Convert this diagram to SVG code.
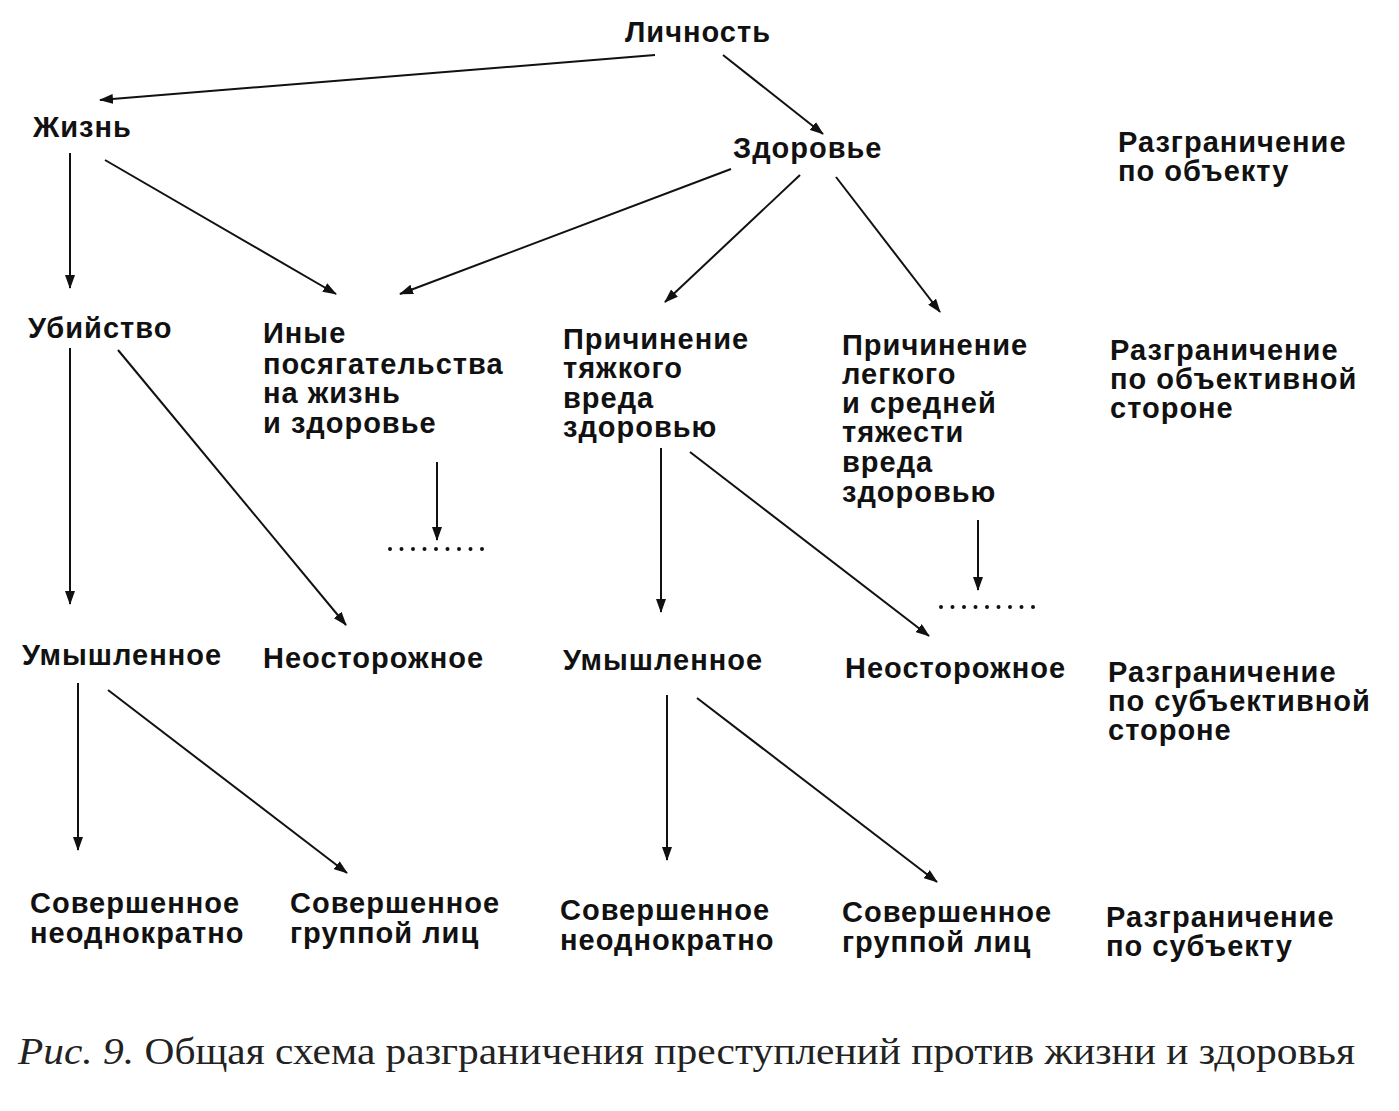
<svg xmlns="http://www.w3.org/2000/svg" width="1399" height="1111" viewBox="0 0 1399 1111">
<defs>
<marker id="ah" viewBox="0 0 14 10" refX="13" refY="5" markerWidth="14" markerHeight="10" markerUnits="userSpaceOnUse" orient="auto">
<path d="M0,0 L14,5 L0,10 Z" fill="#111"/>
</marker>
<style>
.t{font-family:"Liberation Sans",Arial,sans-serif;font-weight:bold;font-size:29px;letter-spacing:1px;fill:#111}
.c line{stroke:#111;stroke-width:2;marker-end:url(#ah)}
.d{stroke:#111;stroke-width:4;stroke-linecap:round;stroke-dasharray:0 11.5;fill:none}
.cap{font-family:"Liberation Serif","Times New Roman",serif;font-size:37px;fill:#222}
</style>
</defs>
<rect width="1399" height="1111" fill="#fff"/>
<g id="connectors" class="c">
<line x1="655" y1="55" x2="100" y2="100"/>
<line x1="723" y1="55" x2="823" y2="134"/>
<line x1="70" y1="153" x2="70" y2="288"/>
<line x1="105" y1="160" x2="336" y2="294"/>
<line x1="731" y1="169" x2="400" y2="294"/>
<line x1="800" y1="175" x2="665" y2="302"/>
<line x1="836" y1="177" x2="940" y2="312"/>
<line x1="70" y1="348" x2="70" y2="604"/>
<line x1="118" y1="350" x2="346" y2="625"/>
<line x1="437" y1="462" x2="437" y2="540"/>
<line x1="661" y1="448" x2="661" y2="612"/>
<line x1="690" y1="452" x2="929" y2="636"/>
<line x1="978" y1="520" x2="978" y2="590"/>
<line x1="78" y1="683" x2="78" y2="850"/>
<line x1="108" y1="690" x2="347" y2="873"/>
<line x1="667" y1="695" x2="667" y2="860"/>
<line x1="697" y1="698" x2="937" y2="882"/>
</g>
<g id="dots1"><path class="d" d="M390,549 H485"/></g>
<g id="dots2"><path class="d" d="M941,607 H1036"/></g>
<g id="n-lichnost"><text class="t" x="625" y="42">Личность</text></g>
<g id="n-zhizn"><text class="t" x="33" y="137">Жизнь</text></g>
<g id="n-zdorovie"><text class="t" x="733" y="158">Здоровье</text></g>
<g id="l-object"><text class="t" x="1118" y="152">Разграничение</text><text class="t" x="1118" y="181">по объекту</text></g>
<g id="n-ubiystvo"><text class="t" x="28" y="338">Убийство</text></g>
<g id="n-inye"><text class="t" x="263" y="343">Иные</text><text class="t" x="263" y="374">посягательства</text><text class="t" x="263" y="403">на жизнь</text><text class="t" x="263" y="433">и здоровье</text></g>
<g id="n-tyazhkiy"><text class="t" x="563" y="349">Причинение</text><text class="t" x="563" y="378">тяжкого</text><text class="t" x="563" y="408">вреда</text><text class="t" x="563" y="437">здоровью</text></g>
<g id="n-legkiy"><text class="t" x="842" y="355">Причинение</text><text class="t" x="842" y="384">легкого</text><text class="t" x="842" y="413">и средней</text><text class="t" x="842" y="442">тяжести</text><text class="t" x="842" y="472">вреда</text><text class="t" x="842" y="502">здоровью</text></g>
<g id="l-objside"><text class="t" x="1110" y="360">Разграничение</text><text class="t" x="1110" y="389">по объективной</text><text class="t" x="1110" y="418">стороне</text></g>
<g id="n-umysh1"><text class="t" x="22" y="665">Умышленное</text></g>
<g id="n-neost1"><text class="t" x="263" y="668">Неосторожное</text></g>
<g id="n-umysh2"><text class="t" x="563" y="670">Умышленное</text></g>
<g id="n-neost2"><text class="t" x="845" y="678">Неосторожное</text></g>
<g id="l-subjside"><text class="t" x="1108" y="682">Разграничение</text><text class="t" x="1108" y="711">по субъективной</text><text class="t" x="1108" y="740">стороне</text></g>
<g id="n-neodn1"><text class="t" x="30" y="913">Совершенное</text><text class="t" x="30" y="943">неоднократно</text></g>
<g id="n-grupp1"><text class="t" x="290" y="913">Совершенное</text><text class="t" x="290" y="943">группой лиц</text></g>
<g id="n-neodn2"><text class="t" x="560" y="920">Совершенное</text><text class="t" x="560" y="950">неоднократно</text></g>
<g id="n-grupp2"><text class="t" x="842" y="922">Совершенное</text><text class="t" x="842" y="952">группой лиц</text></g>
<g id="l-subj"><text class="t" x="1106" y="927">Разграничение</text><text class="t" x="1106" y="956">по субъекту</text></g>
<g id="caption"><text class="cap" x="18" y="1064" textLength="1337" lengthAdjust="spacingAndGlyphs"><tspan font-style="italic">Рис. 9.</tspan> Общая схема разграничения преступлений против жизни и здоровья</text></g>
</svg>
